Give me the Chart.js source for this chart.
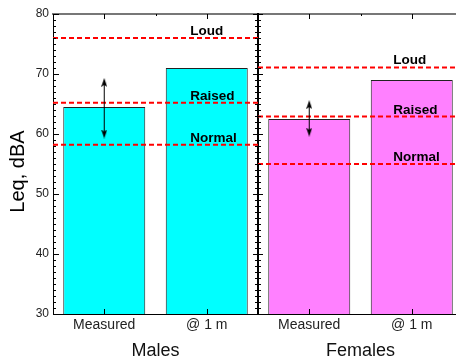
<!DOCTYPE html>
<html>
<head>
<meta charset="utf-8">
<script src="https://cdn.jsdelivr.net/npm/chart.js@4.4.1/dist/chart.umd.min.js"></script>
<style>
  html, body { margin: 0; padding: 0; background: #fff; overflow: hidden; }
  /* the original plot runs a few pixels past the right edge of the picture */
  #wrap { width: 456px; height: 360px; overflow: hidden; }
</style>
</head>
<body>
<div id="wrap"><canvas id="chart" width="468" height="360"></canvas></div>
<script>
// data
const categories = ['Measured', '@ 1 m', 'Measured', '@ 1 m'];
const groups = ['Males', 'Females'];
const levels = [64.5, 71, 62.5, 69];
const barColors = ['#00ffff', '#00ffff', '#ff80ff', '#ff80ff'];

const levelNames = ['Normal', 'Raised', 'Loud'];
const malesRef = [58.2, 65.2, 76];
const femalesRef = [55, 62.9, 71.1];

// spread arrows on the "Measured" bars (head positions)
const maleArrow = [60, 68.6];
const femaleArrow = [60.3, 64.9];

const yTicks = [30, 40, 50, 60, 70, 80];
const yTitle = 'Leq, dBA';

// x2 is a linear copy of the category axis: category i sits at x = i
const groupSpan = [[-0.5, 1.5], [1.5, 3.5]];
const arrowX = [0, 2];
const nameX = [0.84, 2.82];

const FONT = "'Liberation Sans', Arial, sans-serif";

function arrowHead() {
  const c = document.createElement('canvas');
  c.width = 6; c.height = 9;
  const g = c.getContext('2d');
  g.fillStyle = '#000';
  g.beginPath();
  g.moveTo(3, 0); g.lineTo(6, 9); g.lineTo(3, 7); g.lineTo(0, 9);
  g.closePath(); g.fill();
  return c;
}
const head = arrowHead();

function refLine(span, y) {
  return {
    type: 'line', xAxisID: 'x2', order: 1,
    data: [{ x: span[0], y: y }, { x: span[1], y: y }],
    borderColor: '#ff0000', borderWidth: 2, borderDash: [5, 3],
    pointRadius: 0
  };
}

function arrow(x, ends) {
  return {
    type: 'line', xAxisID: 'x2', order: 0,
    data: [{ x: x, y: ends[0] }, { x: x, y: ends[1] }],
    borderColor: '#000', borderWidth: 1,
    pointStyle: head, pointRotation: [180, 0], pointRadius: 4
  };
}

const datasets = [{
  type: 'bar', order: 2, xAxisID: 'x',
  data: levels,
  backgroundColor: barColors,
  borderColor: '#222',
  borderWidth: 1,
  borderSkipped: false,
  grouped: false,
  barPercentage: 0.8,
  categoryPercentage: 1
}];
[malesRef, femalesRef].forEach((refs, g) => {
  refs.forEach(v => datasets.push(refLine(groupSpan[g], v)));
});
datasets.push(arrow(arrowX[0], maleArrow));
datasets.push(arrow(arrowX[1], femaleArrow));

// inward tick marks on the frame, level names, y title
const frameBits = {
  id: 'frameBits',
  afterDatasetsDraw(chart) {
    const ctx = chart.ctx;
    const y = chart.scales.y, x2 = chart.scales.x2, a = chart.chartArea;
    ctx.save();
    ctx.strokeStyle = '#000';
    ctx.lineWidth = 1;
    const mid = Math.round(x2.getPixelForValue(1.5));
    for (let v = y.min; v <= y.max; v++) {
      const py = Math.round(y.getPixelForValue(v)) + 0.5;
      const major = v % 10 === 0;
      const l = major ? 6 : 3;
      ctx.beginPath();
      ctx.moveTo(a.left, py); ctx.lineTo(a.left + l, py);
      const m = major ? 5 : 3;
      ctx.moveTo(mid - m, py); ctx.lineTo(mid + m, py);
      ctx.stroke();
    }
    for (let i = 0; i < categories.length; i++) {
      const px = Math.round(x2.getPixelForValue(i)) + 0.5;
      ctx.beginPath();
      ctx.moveTo(px, a.top); ctx.lineTo(px, a.top + 5);
      ctx.moveTo(px, a.bottom); ctx.lineTo(px, a.bottom - 5);
      ctx.stroke();
    }
    [0.5, 2.5].forEach(v => {
      const px = Math.round(x2.getPixelForValue(v)) + 0.5;
      ctx.beginPath();
      ctx.moveTo(px, a.top); ctx.lineTo(px, a.top + 2);
      ctx.stroke();
    });

    ctx.fillStyle = '#000';
    ctx.font = 'bold 13.5px ' + FONT;
    ctx.textAlign = 'left';
    ctx.textBaseline = 'alphabetic';
    [malesRef, femalesRef].forEach((refs, g) => {
      refs.forEach((v, i) => {
        ctx.fillText(levelNames[i], x2.getPixelForValue(nameX[g]), y.getPixelForValue(v) - 3);
      });
    });

    ctx.translate(18.5, 171.5);
    ctx.rotate(-Math.PI / 2);
    ctx.font = '20px ' + FONT;
    ctx.textAlign = 'center';
    ctx.textBaseline = 'middle';
    ctx.fillText(yTitle, 0, 0);
    ctx.restore();
  }
};

new Chart(document.getElementById('chart'), {
  type: 'bar',
  data: { labels: categories, datasets: datasets },
  options: {
    responsive: false,
    animation: false,
    layout: { padding: { top: 14, right: 0, bottom: 0, left: 0 } },
    plugins: { legend: { display: false }, tooltip: { enabled: false } },
    scales: {
      x: {
        type: 'category', position: 'bottom',
        grid: { display: false, drawTicks: false },
        border: { display: true, color: '#000', width: 1 },
        ticks: { color: '#222', padding: 3, font: { family: FONT, size: 14 } },
        afterFit: s => { s.height = 24; }
      },
      xg: {
        type: 'category', position: 'bottom', labels: groups, offset: true,
        grid: { display: false, drawTicks: false },
        border: { display: false },
        ticks: { color: '#111', padding: 2, font: { family: FONT, size: 18 } },
        afterFit: s => { s.height = 22; }
      },
      x2: { type: 'linear', min: -0.5, max: 3.5, offset: false, display: false },
      xTop: {
        type: 'linear', position: 'top', min: -0.5, max: 3.5, offset: false,
        grid: { display: false, drawTicks: false },
        border: { display: true, color: '#777', width: 2 },
        ticks: { display: false },
        afterFit: s => { s.height = 0; }
      },
      y: {
        min: 30, max: 80,
        afterBuildTicks: s => { s.ticks = yTicks.map(v => ({ value: v })); },
        grid: { display: false, drawTicks: false },
        border: { display: true, color: '#000', width: 1 },
        ticks: { color: '#222', padding: 4, font: { family: FONT, size: 12 } },
        afterFit: s => { s.width = 53; }
      },
      yMid: {
        position: { x2: 1.5 }, min: 30, max: 80,
        grid: { display: false, drawTicks: false },
        border: { display: true, color: '#000', width: 2 },
        ticks: { display: false }
      }
    }
  },
  plugins: [frameBits]
});
</script>
</body>
</html>
